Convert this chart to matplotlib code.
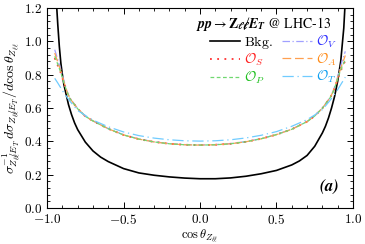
import numpy as np
import matplotlib
matplotlib.use('Agg')
import matplotlib.pyplot as plt
from matplotlib.ticker import MultipleLocator

plt.rcParams['mathtext.fontset'] = 'cm'
plt.rcParams['font.family'] = 'serif'
plt.rcParams['font.serif'] = ['DejaVu Serif']

# signal curves share one grid in cos(theta)
x_sig = [-0.95, -0.93, -0.91, -0.89, -0.87, -0.85, -0.8, -0.75, -0.7, -0.6, -0.5, -0.4, -0.3, -0.2, -0.1, 0.0,
         0.1, 0.2, 0.3, 0.4, 0.5, 0.6, 0.7, 0.75, 0.8, 0.85, 0.87, 0.89, 0.91, 0.93, 0.95]
o_s = [0.90, 0.855, 0.81, 0.75, 0.695, 0.655, 0.595, 0.55, 0.522, 0.475, 0.438, 0.413, 0.396, 0.385, 0.379, 0.377,
       0.379, 0.385, 0.397, 0.415, 0.44, 0.472, 0.518, 0.552, 0.598, 0.66, 0.695, 0.745, 0.80, 0.845, 0.885]
o_v = [0.95, 0.89, 0.83, 0.765, 0.70, 0.658, 0.597, 0.551, 0.523, 0.476, 0.439, 0.414, 0.397, 0.386, 0.380, 0.378,
       0.380, 0.386, 0.398, 0.416, 0.441, 0.473, 0.519, 0.553, 0.60, 0.662, 0.70, 0.755, 0.82, 0.885, 0.94]
o_a = [0.93, 0.875, 0.82, 0.758, 0.698, 0.656, 0.596, 0.55, 0.522, 0.475, 0.438, 0.413, 0.396, 0.385, 0.379, 0.377,
       0.379, 0.385, 0.397, 0.415, 0.44, 0.472, 0.518, 0.552, 0.599, 0.661, 0.698, 0.75, 0.81, 0.865, 0.915]
o_p = [0.91, 0.862, 0.813, 0.752, 0.696, 0.655, 0.595, 0.55, 0.522, 0.475, 0.438, 0.413, 0.396, 0.385, 0.379, 0.377,
       0.379, 0.385, 0.397, 0.415, 0.44, 0.472, 0.518, 0.552, 0.598, 0.66, 0.696, 0.747, 0.803, 0.85, 0.89]
o_t = [0.778, 0.75, 0.72, 0.69, 0.665, 0.64, 0.585, 0.555, 0.527, 0.487, 0.456, 0.434, 0.419, 0.409, 0.403, 0.401,
       0.403, 0.409, 0.42, 0.436, 0.458, 0.49, 0.53, 0.558, 0.59, 0.645, 0.67, 0.695, 0.725, 0.755, 0.785]

# background
x_bkg = [-0.94, -0.93, -0.92, -0.91, -0.9, -0.89, -0.88, -0.86, -0.84, -0.82, -0.8, -0.75, -0.7, -0.65, -0.6, -0.5,
         -0.4, -0.3, -0.2, -0.1, 0.0, 0.1, 0.2, 0.3, 0.4, 0.5, 0.6, 0.65, 0.7, 0.75, 0.8, 0.82, 0.84, 0.86, 0.88,
         0.9, 0.92, 0.94, 0.95]
bkg = [1.25, 1.1, 0.97, 0.87, 0.8, 0.74, 0.70, 0.62, 0.56, 0.51, 0.47, 0.395, 0.342, 0.305, 0.278, 0.236,
       0.21, 0.196, 0.186, 0.179, 0.175, 0.175, 0.18, 0.19, 0.205, 0.225, 0.258, 0.282, 0.315, 0.37, 0.45, 0.49,
       0.54, 0.60, 0.67, 0.76, 0.88, 1.08, 1.25]

fig = plt.figure(figsize=(3.65, 2.44), dpi=100)
ax = fig.add_axes([0.129, 0.148, 0.838, 0.819])

l_bkg, = ax.plot(x_bkg, bkg, color='black', lw=1.2, label=r'$\mathrm{Bkg.}$')
l_v, = ax.plot(x_sig, o_v, color='#a0a0ff', lw=0.9, ls=(0, (6, 2, 1, 2)), label=r'$\mathcal{O}_V$')
l_s, = ax.plot(x_sig, o_s, color='#ff3030', lw=1.3, ls=(0, (1, 3)), label=r'$\mathcal{O}_S$')
l_a, = ax.plot(x_sig, o_a, color='#ffa050', lw=0.9, ls=(0, (7, 3)), label=r'$\mathcal{O}_A$')
l_p, = ax.plot(x_sig, o_p, color='#70d870', lw=0.9, ls=(0, (3, 2)), label=r'$\mathcal{O}_P$')
l_t, = ax.plot(x_sig, o_t, color='#70ccff', lw=0.9, ls=(0, (9, 3, 1, 3)), label=r'$\mathcal{O}_T$')

handles = [l_bkg, l_s, l_p, l_v, l_a, l_t]
text_col = ['black', '#ff2020', '#20c020', '#3030ff', '#ff8c1a', '#10a0f0']
leg = ax.legend(handles=handles, ncol=2, frameon=False, fontsize=10, handlelength=2.2,
                columnspacing=0.6, handletextpad=0.3, labelspacing=0.1,
                loc='upper right', bbox_to_anchor=(0.99, 0.935))
for t, c in zip(leg.get_texts(), text_col):
    t.set_color(c)

ax.text(0.93, 0.965,
        r'$\mathbfit{pp}\rightarrow\mathbf{Z}_{\mathbfit{\ell\ell}}\not\mathbfit{E}_{\mathbfit{T}}$ @ LHC-13',
        transform=ax.transAxes, ha='right', va='top', fontsize=10,
        fontfamily='STIXGeneral', math_fontfamily='stix')
ax.text(0.955, 0.06, r'$\mathbfit{(a)}$', transform=ax.transAxes, ha='right', va='bottom', fontsize=12,
        math_fontfamily='stix')

ax.set_xlim(-1.0, 1.0)
ax.set_ylim(0.0, 1.2)
ax.xaxis.set_minor_locator(MultipleLocator(0.1))
ax.yaxis.set_minor_locator(MultipleLocator(0.04))
ax.tick_params(which='both', direction='in', top=True, right=True, labelsize=9.5)
ax.tick_params(which='major', length=4, width=0.7)
ax.tick_params(which='minor', length=2, width=0.6)
ax.set_xticks([-1.0, -0.5, 0.0, 0.5, 1.0])
ax.set_xticklabels([r'$-1.0$', r'$-0.5$', r'$0.0$', r'$0.5$', r'$1.0$'])
ax.set_yticks([0.0, 0.2, 0.4, 0.6, 0.8, 1.0, 1.2])
ax.set_yticklabels([r'$%.1f$' % v for v in [0.0, 0.2, 0.4, 0.6, 0.8, 1.0, 1.2]])
for s in ax.spines.values():
    s.set_linewidth(0.8)

ax.set_xlabel(r'$\cos\theta_{Z_{\ell\ell}}$', fontsize=9, labelpad=1)
ax.set_ylabel(r'$\sigma^{-1}_{Z_{\ell\ell}\not{E}_T}\,d\sigma_{Z_{\ell\ell}\not{E}_T}/d\cos\theta_{Z_{\ell\ell}}$',
              fontsize=10)
ax.yaxis.set_label_coords(-0.078, 0.5)

plt.savefig('out.png', dpi=100)
